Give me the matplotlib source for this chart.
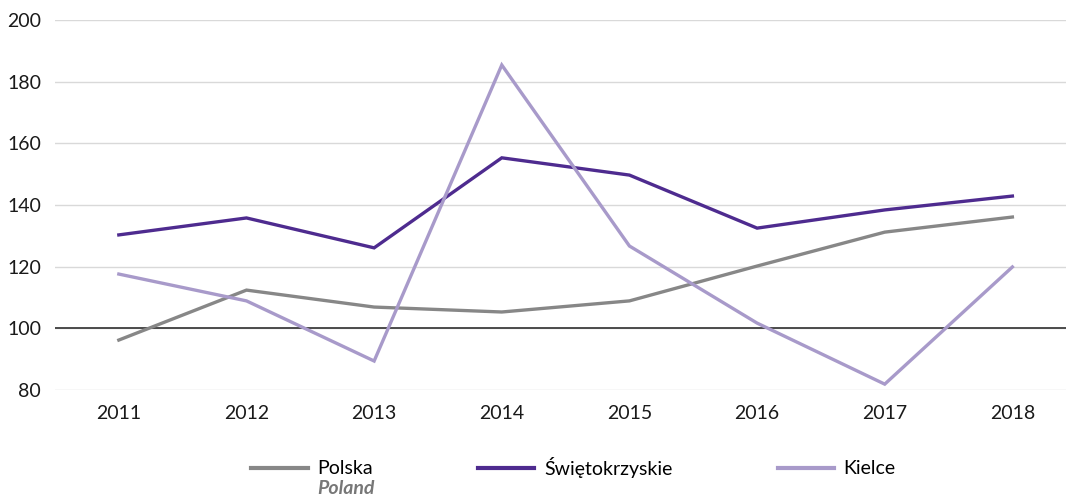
import matplotlib
matplotlib.use('Agg')
import matplotlib.pyplot as plt

plt.rcParams['font.family'] = ['Lato', 'DejaVu Sans']

years = ['2011', '2012', '2013', '2014', '2015', '2016', '2017', '2018']
polska = [96.2, 112.4, 106.9, 105.3, 108.9, 120.2, 131.2, 136.1]
swietokrzyskie = [130.3, 135.8, 126.1, 155.3, 149.7, 132.5, 138.4, 142.9]
kielce = [117.6, 108.9, 89.4, 185.4, 126.7, 101.7, 81.9, 119.9]

c_pl = '#878787'
c_sw = '#4e2b8f'
c_ki = '#a89aca'

fig = plt.figure(figsize=(10.66, 5), dpi=100)
ax = fig.add_axes([55 / 1066, 110 / 500, 1 - 55 / 1066, 370 / 500])

x = range(len(years))
ax.plot(x, polska, color=c_pl, lw=2.4, label='Polska', solid_joinstyle='miter')
ax.plot(x, swietokrzyskie, color=c_sw, lw=2.4, label='Świętokrzyskie', solid_joinstyle='miter')
ax.plot(x, kielce, color=c_ki, lw=2.4, label='Kielce', solid_joinstyle='miter')

# siatka i linia bazowa 100
ax.set_ylim(80, 200)
ax.set_yticks(range(80, 201, 20))
ax.yaxis.grid(True, color='#d9d9d9', lw=1)
ax.set_axisbelow(True)
ax.axhline(100, color='#3f3f3f', lw=1.3, zorder=1.5)

ax.set_xlim(-0.5, 7.42)
ax.set_xticks(list(x))
ax.set_xticklabels(years)
for s in ax.spines.values():
    s.set_visible(False)
ax.tick_params(length=0, labelsize=14, colors='#1a1a1a')
ax.tick_params(axis='x', pad=11)
ax.tick_params(axis='y', pad=10)

leg = fig.legend(loc='center', bbox_to_anchor=(0.538, 33 / 500),
                 ncol=3, frameon=False, fontsize=14, handlelength=2.9,
                 handletextpad=0.5, columnspacing=5.4)
for h in leg.get_lines():
    h.set_linewidth(3)

fig.canvas.draw()
bb = leg.get_texts()[0].get_window_extent()
fig.text(bb.x0 / fig.bbox.width, (bb.y0 - 3) / fig.bbox.height, 'Poland',
         fontsize=14, style='italic', weight='bold', color='#777777', va='top')

fig.savefig('out.png', dpi=100)
